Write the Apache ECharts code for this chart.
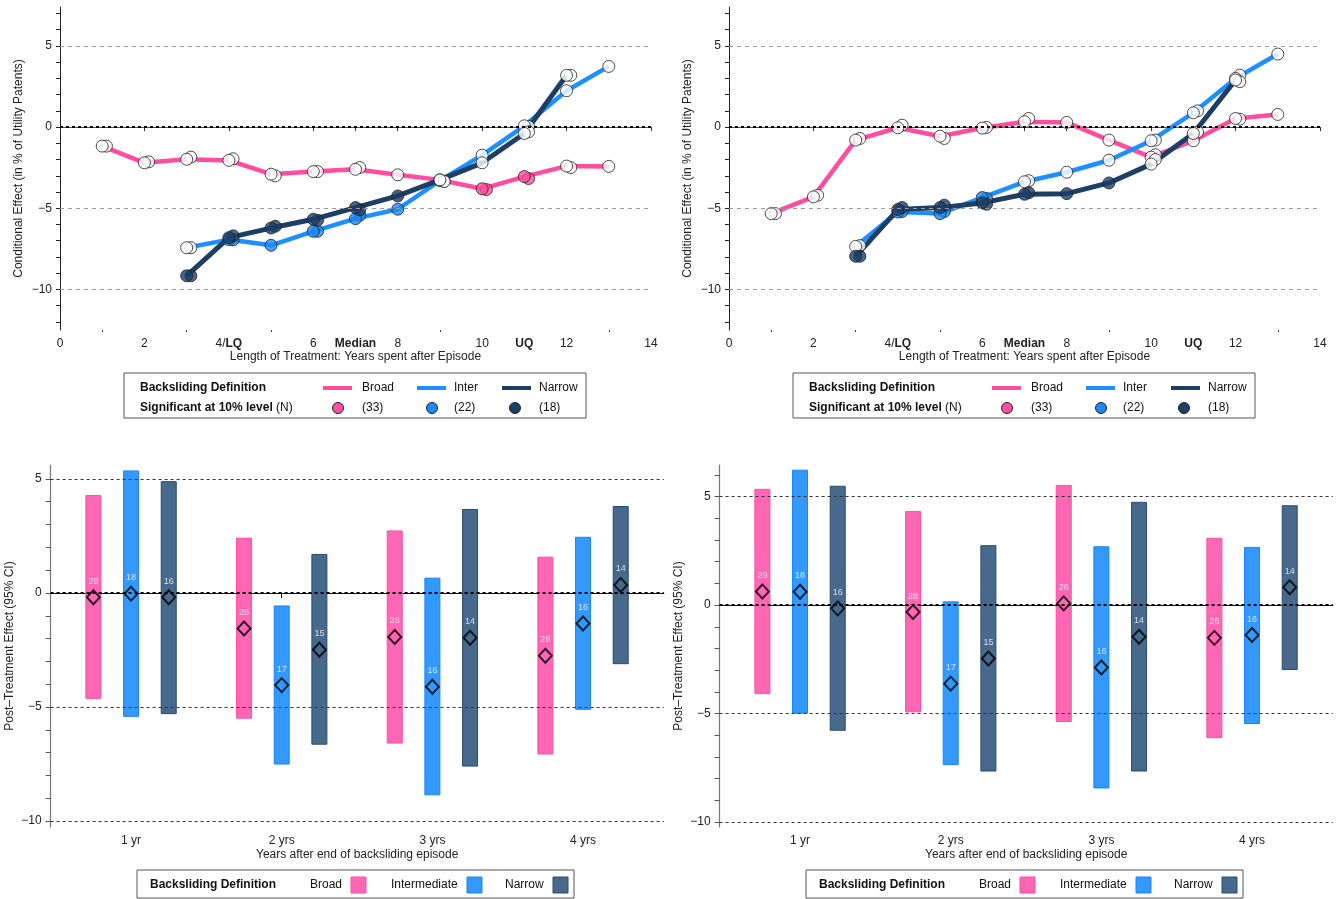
<!DOCTYPE html>
<html><head><meta charset="utf-8">
<script src="https://cdn.jsdelivr.net/npm/echarts@6/dist/echarts.min.js"></script>
<style>html,body{margin:0;padding:0;background:#fff}#c{width:1338px;height:899px}</style>
</head><body><div id="c"></div>
<script>
// ================= DATA =================
// Top panels: conditional effect by years after episode
const years = [1,2,3,4,5,6,7,8,9,10,11,12,13];
const xTickValues = [0,2,4,6,7,8,10,11,12,14];
const xTickLabels = ['0','2','4/{b|LQ}','6','{b|Median}','8','10','{b|UQ}','12','14'];

// Top-left
const tlBroad      = [-1.17,-2.2,-1.98,-2.05,-2.9,-2.74,-2.6,-2.94,-3.25,-3.8,-3.05,-2.4,-2.42];
const tlBroadDup   = [-1.17,-2.14,-1.85,-1.95,-3.0,-2.74,-2.49,null,-3.33,-3.85,-3.17,-2.49,null];
const tlBroadSig   = [0,0,0,0,0,0,0,0,0,1,1,0,0];
const tlInter      = [null,null,-7.43,-6.93,-7.28,-6.42,-5.64,-5.06,-3.3,-1.73,0.08,2.24,3.74];
const tlInterDup   = [null,null,-7.43,-6.95,null,-6.42,-5.43,null,null,null,0.04,null,null];
const tlInterSig   = [0,0,0,1,1,1,1,1,0,0,0,0,0];
const tlNarrow     = [null,null,-9.16,-6.81,-6.22,-5.68,-4.96,-4.24,-3.25,-2.2,-0.39,3.19,null];
const tlNarrowDup  = [null,null,-9.16,-6.7,-6.11,-5.74,-5.1,null,-3.35,null,-0.29,3.19,null];
const tlNarrowSig  = [0,0,1,1,1,1,1,1,0,0,0,0,0];

// Top-right
const trBroad      = [-5.33,-4.3,-0.8,-0.04,-0.56,-0.06,0.33,0.29,-0.8,-1.85,-0.84,0.53,0.78];
const trBroadDup   = [-5.33,-4.2,-0.7,0.12,-0.7,-0.02,0.53,null,null,-1.7,null,0.49,null];
const trBroadSig   = [0,0,0,0,0,0,0,0,0,0,0,0,0];
const trInter      = [null,null,-7.35,-5.23,-5.33,-4.34,-3.37,-2.78,-2.04,-0.84,0.88,3.0,4.5];
const trInterDup   = [null,null,-7.3,-5.2,-5.2,-4.4,-3.3,null,null,-0.8,1.0,3.2,null];
const trInterSig   = [0,0,0,1,1,1,0,0,0,0,0,0,0];
const trNarrow     = [null,null,-7.96,-5.08,-4.96,-4.67,-4.14,-4.1,-3.44,-2.28,-0.39,2.9,null];
const trNarrowDup  = [null,null,-7.96,-4.95,-4.81,-4.75,-4.05,null,null,-2.0,-0.3,2.8,null];
const trNarrowSig  = [0,0,1,1,1,1,1,1,1,0,0,0,0];

const sigCounts = ['(33)','(22)','(18)'];

// Bottom panels: post-treatment effect (95% CI)
const postCats = ['1 yr','2 yrs','3 yrs','4 yrs'];
// Bottom-left
const blBroadEst  = [-0.19,-1.56,-1.93,-2.75];
const blBroadLo   = [-4.62,-5.49,-6.58,-7.06];
const blBroadHi   = [4.27,2.40,2.72,1.57];
const blBroadN    = [29,28,26,26];
const blInterEst  = [-0.03,-4.04,-4.11,-1.34];
const blInterLo   = [-5.41,-7.5,-8.85,-5.1];
const blInterHi   = [5.35,-0.57,0.65,2.44];
const blInterN    = [18,17,16,16];
const blNarrowEst = [-0.19,-2.49,-1.96,0.35];
const blNarrowLo  = [-5.29,-6.63,-7.59,-3.1];
const blNarrowHi  = [4.88,1.69,3.66,3.79];
const blNarrowN   = [16,15,14,14];
// Bottom-right
const brBroadEst  = [0.63,-0.32,0.08,-1.51];
const brBroadLo   = [-4.08,-4.92,-5.37,-6.11];
const brBroadHi   = [5.34,4.32,5.52,3.08];
const brBroadN    = [29,28,26,26];
const brInterEst  = [0.62,-3.62,-2.88,-1.38];
const brInterLo   = [-4.98,-7.35,-8.43,-5.46];
const brInterHi   = [6.22,0.15,2.69,2.66];
const brInterN    = [18,17,16,16];
const brNarrowEst = [-0.15,-2.46,-1.46,0.82];
const brNarrowLo  = [-5.77,-7.65,-7.65,-2.97];
const brNarrowHi  = [5.48,2.74,4.74,4.58];
const brNarrowN   = [16,15,14,14];

// ================= STYLE =================
const FONT = '"Liberation Sans", Arial, Helvetica, sans-serif';
const C = {
  pinkLine:'#FF4DA0', blueLine:'#1E8FFF', navyLine:'#1D3F66',
  pinkFill:'#FF4FA0', blueFill:'#1E88F5', navyFill:'#1D3F66',
  pinkBar:'#FF66B3', pinkBarB:'#FF4DA6', blueBar:'#3399FF', blueBarB:'#1A85F0', navyBar:'#476A8C', navyBarB:'#2A4A6C'
};
const DUPX = 0.1;

const chart = echarts.init(document.getElementById('c'), null, {renderer:'canvas'});

const grids = [
  {left:60, top:7, width:591, height:323},
  {left:729, top:7, width:591, height:323},
  {left:50.6, top:465, width:613.2, height:362},
  {left:719.6, top:465, width:613.2, height:362}
];

function range(a,b){const r=[];for(let i=a;i<=b;i++)r.push(i);return r;}

const xAxes = [];
const yAxes = [];
[0,1].forEach(g=>{
  xAxes.push({type:'value', gridIndex:g, min:0, max:14,
    name:'Length of Treatment: Years spent after Episode', nameLocation:'middle', nameGap:21,
    nameTextStyle:{fontFamily:FONT, fontSize:12, color:'#222'},
    axisLine:{show:true, lineStyle:{color:'#555', width:1}},
    axisTick:{show:true, length:4, customValues:xTickValues, lineStyle:{color:'#333'}},
    splitLine:{show:false},
    axisLabel:{customValues:xTickValues, margin:8, fontFamily:FONT, fontSize:12, color:'#222',
      formatter:(v)=>xTickLabels[xTickValues.indexOf(v)] || '',
      rich:{b:{fontWeight:'bold', fontFamily:FONT, fontSize:12, color:'#222'}}}
  });
  xAxes.push({type:'value', gridIndex:g, min:0, max:14, position:'bottom',
    axisLine:{show:false}, axisTick:{show:true, length:2, customValues:[1,3,5,9,13], lineStyle:{color:'#333'}},
    axisLabel:{show:false}, splitLine:{show:false}});
  yAxes.push({type:'value', gridIndex:g, min:-12.5, max:7.4,
    name:'Conditional Effect (in % of Utility Patents)', nameLocation:'middle', nameGap:35, nameRotate:90,
    nameTextStyle:{fontFamily:FONT, fontSize:12, color:'#222'},
    axisLine:{show:true, lineStyle:{color:'#222', width:1}},
    axisTick:{show:true, length:4, customValues:range(-12,7), lineStyle:{color:'#222'}},
    splitLine:{show:false},
    axisLabel:{customValues:[-10,-5,0,5], margin:8, fontFamily:FONT, fontSize:12, color:'#222',
      formatter:(v)=>String(v).replace('-','\u2212')}
  });
});
[[2,-10.26,5.61],[3,-10.23,6.46]].forEach(([g,mn,mx])=>{
  xAxes.push({type:'value', gridIndex:g, min:0.466, max:4.536,
    name:'Years after end of backsliding episode', nameLocation:'middle', nameGap:22,
    nameTextStyle:{fontFamily:FONT, fontSize:12, color:'#222'},
    axisLine:{show:true, lineStyle:{color:'#111', width:1.2}},
    axisTick:{show:true, length:5, customValues:[1,2,3,4], lineStyle:{color:'#111'}},
    splitLine:{show:false},
    axisLabel:{customValues:[1,2,3,4], margin:8, fontFamily:FONT, fontSize:12, color:'#222',
      formatter:(v)=>postCats[Math.round(v)-1] || ''}
  });
  yAxes.push({type:'value', gridIndex:g, min:mn, max:mx,
    name:'Post\u2013Treatment Effect (95% CI)', nameLocation:'middle', nameGap:35, nameRotate:90,
    nameTextStyle:{fontFamily:FONT, fontSize:12, color:'#222'},
    axisLine:{show:true, lineStyle:{color:'#777', width:1.2}},
    axisTick:{show:true, length:5, customValues:range(Math.ceil(mn), Math.floor(mx)), lineStyle:{color:'#555'}},
    splitLine:{show:false},
    axisLabel:{customValues:[-10,-5,0,5], margin:9, fontFamily:FONT, fontSize:12, color:'#222',
      formatter:(v)=>String(v).replace('-','\u2212')}
  });
});

const series = [];

function gridLineSeries(xi, yi, gcol, gdash, gw){
  series.push({type:'line', xAxisIndex:xi, yAxisIndex:yi, data:[], z:0, silent:true,
    markLine:{silent:true, symbol:['none','none'], label:{show:false}, animation:false,
      data:[
        {yAxis:5, lineStyle:{color:gcol, type:gdash, width:gw}},
        {yAxis:-5, lineStyle:{color:gcol, type:gdash, width:gw}},
        {yAxis:-10, lineStyle:{color:gcol, type:gdash, width:gw}},
        {yAxis:0, lineStyle:{color:'#000', type:[3,3], width:2}}
      ]}});
}

function topPanel(xi, yi, sets){
  gridLineSeries(xi, yi, '#9a9a9a', [4,4], 1);
  sets.forEach(s=>{
    const d = years.map((x,i)=> s.v[i]==null ? null : [x, s.v[i]]).filter(p=>p);
    series.push({type:'line', xAxisIndex:xi, yAxisIndex:yi, data:d, showSymbol:false, symbol:'none',
      lineStyle:{color:s.line, width:s.w}, z:2, animation:false});
  });
  sets.forEach(s=>{
    const pts = [];
    years.forEach((x,i)=>{
      const col = s.sig[i] ? s.fill : '#ffffff';
      if (s.dup[i]!=null) pts.push({value:[x+DUPX, s.dup[i]], itemStyle:{color:col}});
      if (s.v[i]!=null) pts.push({value:[x, s.v[i]], itemStyle:{color:col}});
    });
    series.push({type:'scatter', xAxisIndex:xi, yAxisIndex:yi, data:pts, symbol:'circle', symbolSize:12,
      itemStyle:{borderColor:'#222', borderWidth:1}, z:3, animation:false});
  });
}

topPanel(0, 0, [
  {v:tlBroad, dup:tlBroadDup, sig:tlBroadSig, line:C.pinkLine, fill:C.pinkFill, w:4.5},
  {v:tlInter, dup:tlInterDup, sig:tlInterSig, line:C.blueLine, fill:C.blueFill, w:4.5},
  {v:tlNarrow, dup:tlNarrowDup, sig:tlNarrowSig, line:C.navyLine, fill:C.navyFill, w:5}
]);
topPanel(2, 1, [
  {v:trBroad, dup:trBroadDup, sig:trBroadSig, line:C.pinkLine, fill:C.pinkFill, w:4.5},
  {v:trInter, dup:trInterDup, sig:trInterSig, line:C.blueLine, fill:C.blueFill, w:4.5},
  {v:trNarrow, dup:trNarrowDup, sig:trNarrowSig, line:C.navyLine, fill:C.navyFill, w:5}
]);

function bottomPanel(xi, yi, sets){
  gridLineSeries(xi, yi, '#333', [3,3], 1);
  sets.forEach(s=>{
    const data = postCats.map((c,i)=>[i+1+s.off, s.lo[i], s.hi[i]]);
    series.push({type:'custom', xAxisIndex:xi, yAxisIndex:yi, data:data, z:2, animation:false,
      encode:{x:0, y:[1,2]},
      renderItem:(params, api)=>{
        const lo = api.coord([api.value(0), api.value(1)]);
        const hi = api.coord([api.value(0), api.value(2)]);
        return {type:'rect', shape:{x:lo[0]-7.5, y:hi[1], width:15, height:lo[1]-hi[1]},
          style:{fill:s.fill, stroke:s.stroke, lineWidth:1}};
      }});
    const pts = postCats.map((c,i)=>[i+1+s.off, s.est[i], s.n[i]]);
    series.push({type:'scatter', xAxisIndex:xi, yAxisIndex:yi, data:pts, symbol:'diamond', symbolSize:[13,14],
      itemStyle:{color:'rgba(0,0,0,0)', borderColor:'#000', borderWidth:2}, z:4, animation:false,
      label:{show:true, position:'inside', offset:[0,-16], formatter:(p)=>String(p.value[2]),
        color:'#f6f6f6', fontSize:9, fontFamily:FONT}});
  });
}
bottomPanel(4, 2, [
  {off:-0.25, est:blBroadEst, lo:blBroadLo, hi:blBroadHi, n:blBroadN, fill:C.pinkBar, stroke:C.pinkBarB},
  {off:0, est:blInterEst, lo:blInterLo, hi:blInterHi, n:blInterN, fill:C.blueBar, stroke:C.blueBarB},
  {off:0.25, est:blNarrowEst, lo:blNarrowLo, hi:blNarrowHi, n:blNarrowN, fill:C.navyBar, stroke:C.navyBarB}
]);
bottomPanel(5, 3, [
  {off:-0.25, est:brBroadEst, lo:brBroadLo, hi:brBroadHi, n:brBroadN, fill:C.pinkBar, stroke:C.pinkBarB},
  {off:0, est:brInterEst, lo:brInterLo, hi:brInterHi, n:brInterN, fill:C.blueBar, stroke:C.blueBarB},
  {off:0.25, est:brNarrowEst, lo:brNarrowLo, hi:brNarrowHi, n:brNarrowN, fill:C.navyBar, stroke:C.navyBarB}
]);

// ================= LEGENDS (graphic) =================
const graphic = [];
function txt(x,y,t,bold,extra){
  graphic.push(Object.assign({type:'text', x:x, y:y, silent:true,
    style:{text:t, fill:'#111', font:(bold?'bold ':'')+'12px '+FONT, verticalAlign:'middle', align:'left'}}, extra||{}));
}
function topLegend(ox){
  graphic.push({type:'rect', silent:true, shape:{x:124+ox, y:373, width:462, height:45},
    style:{fill:'#fff', stroke:'#555', lineWidth:1}});
  txt(140+ox, 388, 'Backsliding Definition', true);
  const cols = [C.pinkLine, C.blueLine, C.navyLine];
  const fills = [C.pinkFill, C.blueFill, C.navyFill];
  const names = ['Broad','Inter','Narrow'];
  const lx = [323, 417, 502], tx = [362, 454, 539], cx = [338, 432, 515];
  for (let i=0;i<3;i++){
    graphic.push({type:'line', silent:true, shape:{x1:lx[i]+ox, y1:388, x2:lx[i]+29+ox, y2:388},
      style:{stroke:cols[i], lineWidth:4}});
    txt(tx[i]+ox, 388, names[i], false);
    graphic.push({type:'circle', silent:true, shape:{cx:cx[i]+ox, cy:408, r:5.5},
      style:{fill:fills[i], stroke:'#222', lineWidth:1}});
    txt(tx[i]+ox, 408, sigCounts[i], false);
  }
  graphic.push({type:'text', x:140+ox, y:408, silent:true,
    style:{text:'{b|Significant at 10% level} (N)', fill:'#111', font:'12px '+FONT, verticalAlign:'middle',
      rich:{b:{font:'bold 12px '+FONT, fill:'#111'}}}});
}
function bottomLegend(ox){
  graphic.push({type:'rect', silent:true, shape:{x:137+ox, y:870, width:437, height:28},
    style:{fill:'#fff', stroke:'#555', lineWidth:1}});
  txt(150+ox, 885, 'Backsliding Definition', true);
  const names = ['Broad','Intermediate','Narrow'];
  const tx = [310, 391, 505], rx = [351, 467, 553];
  const f = [C.pinkBar, C.blueBar, C.navyBar], st = [C.pinkBarB, C.blueBarB, C.navyBarB];
  for (let i=0;i<3;i++){
    txt(tx[i]+ox, 885, names[i], false);
    graphic.push({type:'rect', silent:true, shape:{x:rx[i]+ox, y:877, width:15, height:16},
      style:{fill:f[i], stroke:st[i], lineWidth:1}});
  }
}
topLegend(0); topLegend(669);
bottomLegend(0); bottomLegend(669);

chart.setOption({
  animation:false,
  backgroundColor:'#fff',
  textStyle:{fontFamily:FONT},
  grid:grids,
  xAxis:xAxes,
  yAxis:yAxes,
  series:series,
  graphic:graphic
});
</script></body></html>
